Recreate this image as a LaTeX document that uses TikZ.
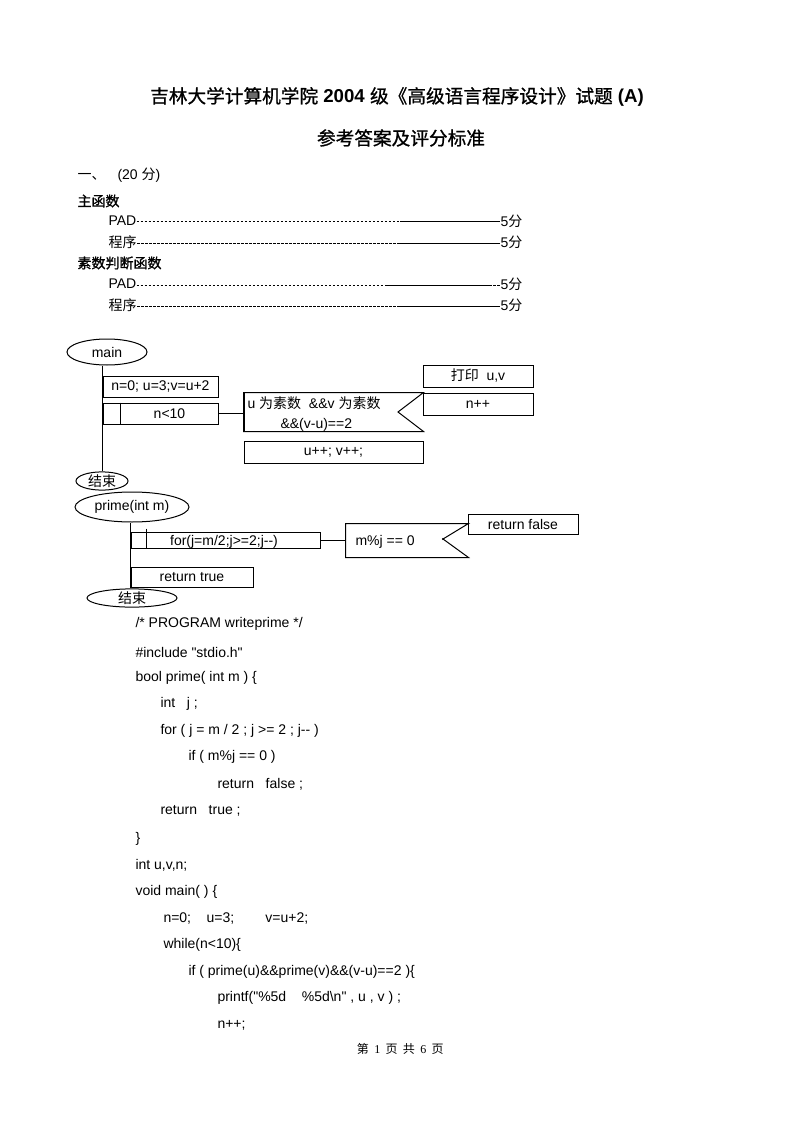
\documentclass[tikz,border=0pt]{standalone}
\usepackage{fontspec}
\setmainfont{Liberation Sans}[Ligatures=TeXOff]
\newfontfamily\cjk{Noto Sans CJK SC}
\newfontfamily\cjkhead{Noto Sans CJK SC}[FakeBold=1]
\newfontfamily\footserif{Liberation Serif}
\usetikzlibrary{shapes.geometric}
\newcommand{\zh}[1]{{\cjk #1}}
\newcommand{\zhh}[1]{{\cjkhead #1}}

\begin{document}
\begin{tikzpicture}[x=0.75pt, y=-0.75pt, line width=0.75pt,
  txt/.style={font=\fontsize{10.5}{12}\selectfont, inner sep=0},
  code/.style={txt, anchor=west},
  box/.style={draw, txt, minimum height=15.75pt},
  oval/.style={draw, ellipse, txt, inner sep=0},
  lead/.style={dash pattern=on 2pt off 1pt},
]
\useasboundingbox (0,0) rectangle (794,1123);
% heading
\node[font=\fontsize{14}{16}\selectfont] (title) at (397,97)
  {\zhh{吉林大学计算机学院}~\textbf{2004}~\zhh{级《高级语言程序设计》试题}~\textbf{(A)}};
\node[font=\fontsize{14}{16}\selectfont] (subtitle) at (401,138) {\zhh{参考答案及评分标准}};
\node[code] (part1) at (77,175) {\zh{一、}\hspace{9pt}(20 \zh{分})};
% marking scheme
\node[code] (grpA) at (77,201) {\zhh{主函数}};
\node[code] (grpB) at (77,263) {\zhh{素数判断函数}};
\foreach \k/\lab/\y/\s/\e in {1/PAD/221/400/499, 2/\zh{程序}/242/397/499,
                              3/PAD/284/387/489, 4/\zh{程序}/305/397/499} {
  \node[code] (item\k) at (108,\y) {\lab};
  \node[code] (mark\k) at (500,\y) {5\zh{分}};
  \coordinate (s\k) at (\s,\y+1);
  \coordinate (e\k) at (\e,\y+1);
  \draw[lead] (item\k.east |- s\k) -- (s\k);
  \draw (s\k) -- (e\k);
  \draw[lead] (e\k) -- (mark\k.west |- e\k);
}
% ---- PAD of main
\node[oval, minimum width=60pt, minimum height=19.5pt] (main) at (107,352) {main};
\node[box, minimum width=86.25pt] (init) at (160.5,386.5) {n=0; u=3;v=u+2};
\node[box, minimum width=86.25pt] (loop) at (160.5,413.5) {\hspace*{13.5pt}n<10};
\draw ([xshift=13.5pt]loop.north west) -- ([xshift=13.5pt]loop.south west);
\node[oval, minimum width=39pt, minimum height=12pt] (end1) at (102,481) {\zh{结束}};
\draw (main.south -| init.west) -- (end1.north -| init.west);
% selection: both prime and twin
\node[minimum width=134.25pt, minimum height=28.5pt, inner sep=0] (cond) at (333.5,412) {};
\coordinate (notch) at (398,412);
\draw (cond.north east) -- (cond.north west) -- (cond.south west) -- (cond.south east)
  -- (notch) -- cycle;
\draw[line width=1.5pt] (cond.north west) -- (cond.south west);
\node[code] (condA) at (247,403) {u \zh{为素数}~~\&\&v \zh{为素数}};
\node[code] (condB) at (280,425) {\&\&(v-u)==2};
\node[box, minimum width=82.5pt, minimum height=16.5pt] (print) at (478,376) {\zh{打印}~~u,v};
\node[box, minimum width=82.5pt, minimum height=16.5pt] (incr) at (478,404) {n++};
\node[box, minimum width=134.25pt, minimum height=16.5pt] (step) at (333.5,452) {u++; v++;};
\draw (loop.east) -- (loop.east -| cond.west);
% ---- PAD of prime
\node[oval, minimum width=85.5pt, minimum height=22.5pt] (prime) at (132,507) {prime(int m)};
\node[box, minimum width=141.75pt, minimum height=12pt] (forbox) at (225.5,540) {};
\draw ([xshift=12pt, yshift=2.25pt]forbox.north west) -- ([xshift=12pt]forbox.south west);
\node[txt] (fortxt) at (224,542) {for(j=m/2;j>=2;j--)};
\node[minimum width=91.5pt, minimum height=24.75pt, inner sep=0] (test) at (407,540.5) {};
\coordinate (tnotch) at (443,539);
\draw (test.north east) -- (test.north west) -- (test.south west) -- (test.south east)
  -- (tnotch) -- cycle;
\fill (tnotch) circle (0.9pt);
\node[code] (testtxt) at (355,542) {m\%j == 0};
\node[box, minimum width=82.5pt, minimum height=15pt] (false) at (523,524) {return false};
\draw (forbox.east) -- (forbox.east -| test.west);
\node[box, minimum width=91.5pt, minimum height=15pt] (true) at (192,577) {return true};
\node[oval, minimum width=67.5pt, minimum height=12pt] (end2) at (132,598) {\zh{结束}};
\draw (prime.south -| forbox.west) -- (true.south west);
% ---- program text
\node[code] (c1) at (135,624) {/* PROGRAM writeprime */};
\node[code] (c2) at (135,652) {\#include "stdio.h"};
\node[code] (c3) at (135,678) {bool prime( int m ) \{};
\node[code] (c4) at (160,704) {int~~~j ;};
\node[code] (c5) at (160,731) {for ( j = m / 2 ; j >= 2 ; j-- )};
\node[code] (c6) at (188,757) {if ( m\%j == 0 )};
\node[code] (c7) at (217,784) {return~~~false ;};
\node[code] (c8) at (160,811) {return~~~true ;};
\node[code] (c9) at (135,839) {\}};
\node[code] (c10) at (135,865) {int u,v,n;};
\node[code] (c11) at (135,892) {void main( ) \{};
\node[code] (c12) at (163,918) {n=0;~~~~u=3;~~~~~~~~v=u+2;};
\node[code] (c13) at (163,945) {while(n<10)\{};
\node[code] (c14) at (188,972) {if ( prime(u)\&\&prime(v)\&\&(v-u)==2 )\{};
\node[code] (c15) at (217,998) {printf("\%5d~~~~\%5d\textbackslash n" , u , v ) ;};
\node[code] (c16) at (217,1025) {n++;};
% footer
\node[anchor=west, font=\fontsize{9}{10}\selectfont\footserif] (foot) at (352,1049)
  {\zh{第}\hspace{4pt}1\hspace{4pt}\zh{页}\hspace{4pt}\zh{共}\hspace{4pt}6\hspace{4pt}\zh{页}};
\end{tikzpicture}
\end{document}
